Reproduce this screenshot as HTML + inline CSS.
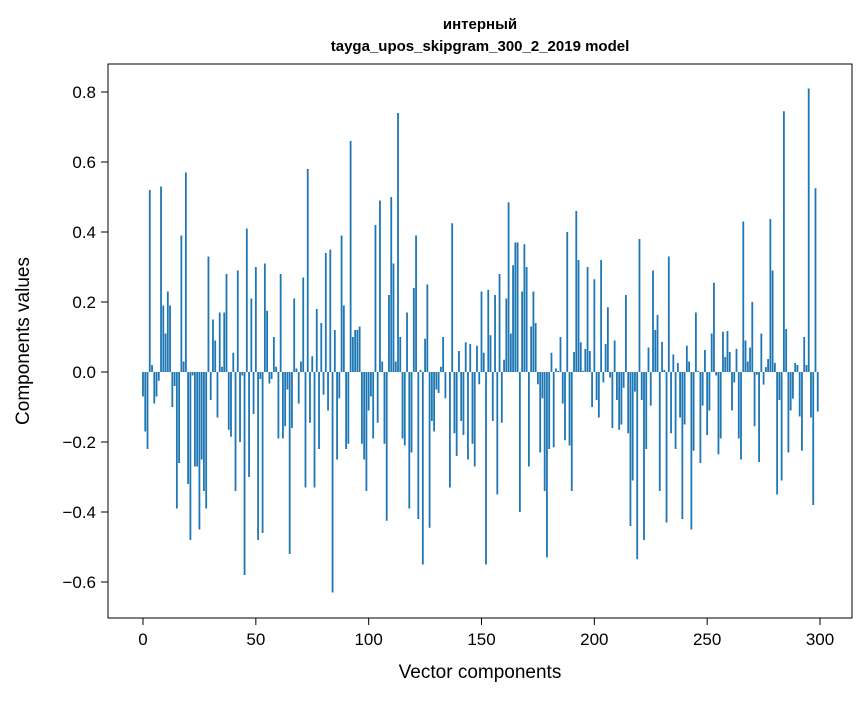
<!DOCTYPE html>
<html><head><meta charset="utf-8"><style>
body{margin:0;background:#fff;font-family:"Liberation Sans","DejaVu Sans",sans-serif}
svg text{font-family:"Liberation Sans","DejaVu Sans",sans-serif}
</style></head><body>
<svg id="chart" width="867" height="696">
<rect width="867" height="696" fill="#fff"/>
<text x="480" y="29" text-anchor="middle" font-size="15" font-weight="bold">интерный</text>
<text x="480" y="51" text-anchor="middle" font-size="15" font-weight="bold">tayga_upos_skipgram_300_2_2019 model</text>
<g id="bars"></g>
<rect x="108" y="64" width="744" height="554" fill="none" stroke="#000" stroke-width="1"/>
<g id="xticks"></g>
<g id="yticks"></g>
<text x="480" y="678" text-anchor="middle" font-size="19">Vector components</text>
<text transform="translate(29,341) rotate(-90)" text-anchor="middle" font-size="19">Components values</text>
</svg>
<script>
const values = [
-0.07,-0.17,-0.22,0.52,0.02,-0.09,-0.07,-0.025,0.53,0.19,
0.11,0.23,0.19,-0.10,-0.04,-0.39,-0.26,0.39,0.03,0.57,
-0.32,-0.48,-0.01,-0.27,-0.27,-0.45,-0.25,-0.34,-0.39,0.33,
-0.08,0.15,0.09,-0.13,0.17,0.015,0.17,0.28,-0.165,-0.185,
0.055,-0.34,0.29,-0.2,-0.01,-0.58,0.41,-0.30,0.21,-0.12,
0.30,-0.48,-0.02,-0.46,0.31,0.175,-0.033,-0.02,0.10,0.015,
-0.19,0.28,-0.19,-0.155,-0.05,-0.52,-0.16,0.21,0.01,-0.09,
0.03,0.27,-0.33,0.58,-0.145,0.045,-0.33,0.18,-0.22,0.14,
-0.065,0.34,-0.11,0.35,-0.63,0.12,-0.25,-0.075,0.39,0.19,
-0.22,-0.205,0.66,0.10,0.12,0.12,0.13,-0.205,-0.25,-0.34,
-0.11,-0.07,-0.19,0.42,-0.145,0.49,0.03,-0.205,-0.425,0.22,
0.50,0.31,0.03,0.74,0.10,-0.19,-0.21,0.17,-0.39,-0.23,
0.24,0.39,-0.42,0.006,-0.55,0.095,0.25,-0.445,-0.14,-0.17,
-0.05,-0.06,0.015,0.10,-0.075,0.0,-0.33,0.425,-0.175,-0.24,
0.06,-0.14,-0.18,0.085,-0.25,0.08,-0.205,-0.27,0.075,-0.035,
0.23,0.055,-0.55,0.235,0.105,-0.14,0.22,-0.35,0.28,-0.145,
0.035,0.21,0.485,0.11,0.305,0.37,0.37,-0.40,0.23,0.365,
0.30,-0.27,0.13,0.23,0.14,-0.035,-0.23,-0.075,-0.34,-0.53,
-0.22,0.055,-0.215,0.01,0.003,0.10,-0.09,-0.195,0.40,-0.21,
-0.34,0.057,0.46,0.32,0.085,0.003,0.066,0.30,0.06,-0.10,
0.265,-0.08,-0.13,0.32,-0.03,0.08,0.185,-0.016,-0.16,0.09,
-0.08,-0.165,-0.15,-0.045,0.22,-0.175,-0.44,-0.31,-0.056,-0.535,
0.38,-0.08,-0.48,-0.22,0.07,-0.096,0.29,0.12,0.163,-0.34,
0.086,0.006,-0.43,0.33,-0.175,0.05,-0.22,0.026,-0.13,-0.42,
-0.15,0.075,0.03,-0.45,-0.225,0.17,0.003,-0.26,-0.096,0.063,
-0.18,-0.11,0.11,0.255,-0.01,-0.235,-0.19,0.115,0.043,0.117,
0.057,-0.11,-0.03,0.066,-0.19,-0.25,0.43,0.09,0.03,0.07,
0.20,-0.155,-0.008,-0.257,0.11,-0.036,0.014,0.037,0.437,0.29,
0.026,-0.35,-0.08,-0.31,0.745,0.123,-0.23,-0.11,-0.076,0.026,
0.02,-0.127,-0.225,0.10,0.02,0.81,-0.13,-0.38,0.525,-0.113
];
const xTickLabels = [0,50,100,150,200,250,300];
const yTickLabels = [-0.6,-0.4,-0.2,0.0,0.2,0.4,0.6,0.8];
const NS="http://www.w3.org/2000/svg";
const xs = v => 143 + (v/300)*677;
const ys = v => 372 - v*350;
const bw = 0.8*677/300;
const g = document.getElementById('bars');
values.forEach((v,i)=>{
  const r=document.createElementNS(NS,'rect');
  r.setAttribute('x',xs(i)-bw/2);
  r.setAttribute('y',Math.min(ys(v),ys(0)));
  r.setAttribute('width',bw);
  r.setAttribute('height',Math.abs(ys(v)-ys(0)));
  r.setAttribute('fill','#1f77b4');
  
  
  g.appendChild(r);
});
const xg=document.getElementById('xticks');
xTickLabels.forEach(t=>{
  const l=document.createElementNS(NS,'line');
  l.setAttribute('x1',xs(t));l.setAttribute('x2',xs(t));
  l.setAttribute('y1',618);l.setAttribute('y2',625);l.setAttribute('stroke','#000');
  
  
  xg.appendChild(l);
  const tx=document.createElementNS(NS,'text');
  tx.setAttribute('x',xs(t));tx.setAttribute('y',645);
  tx.setAttribute('text-anchor','middle');tx.setAttribute('font-size','17');
  tx.textContent=t;
  
  
  xg.appendChild(tx);
});
const yg=document.getElementById('yticks');
yTickLabels.forEach(t=>{
  const l=document.createElementNS(NS,'line');
  l.setAttribute('x1',101);l.setAttribute('x2',108);
  l.setAttribute('y1',ys(t));l.setAttribute('y2',ys(t));l.setAttribute('stroke','#000');
  
  
  yg.appendChild(l);
  const tx=document.createElementNS(NS,'text');
  tx.setAttribute('x',96);tx.setAttribute('y',ys(t)+6);
  tx.setAttribute('text-anchor','end');tx.setAttribute('font-size','17');
  tx.textContent=(t<0?'\u2212':'')+Math.abs(t).toFixed(1);
  
  
  yg.appendChild(tx);
});
</script>
</body></html>
